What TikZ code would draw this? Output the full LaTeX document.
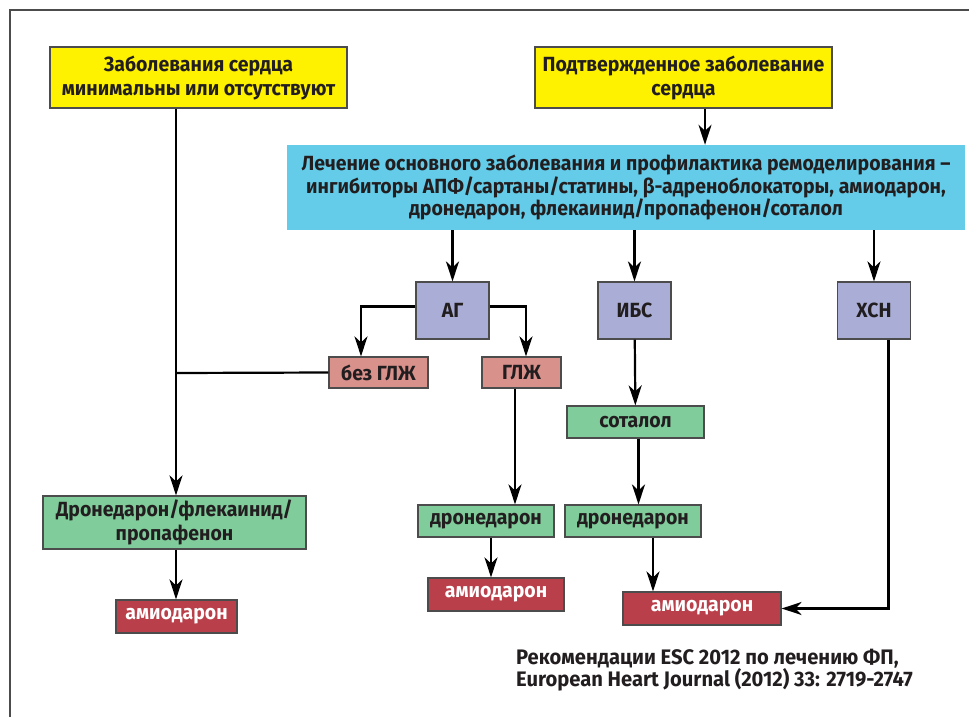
\documentclass[tikz,border=0pt]{standalone}
\usepackage{fontspec}
\setmainfont{Fira Sans}[FakeStretch=0.95]
\newfontfamily\citefont{Fira Sans}[FakeStretch=0.96]
\usetikzlibrary{arrows.meta}
\definecolor{zheltyj}{RGB}{255,242,0}
\definecolor{goluboj}{RGB}{100,204,232}
\definecolor{sirenevyj}{RGB}{170,174,214}
\definecolor{rozovyj}{RGB}{217,145,140}
\definecolor{zelenyj}{RGB}{128,204,155}
\definecolor{krasnyj}{RGB}{185,63,74}
\definecolor{tekst}{RGB}{34,30,32}

\begin{document}
\begin{tikzpicture}[x=1pt, y=-1pt,
    every node/.style={font=\bfseries\fontsize{20.5}{24}\selectfont, text=tekst, align=center, inner sep=0pt},
    box/.style={draw=black!70, line width=1.2pt},
    yellowbox/.style={box, fill=zheltyj, minimum width=297pt, minimum height=61pt},
    cyanbox/.style={fill=goluboj},
    bluebox/.style={box, fill=sirenevyj, minimum width=73pt, minimum height=57pt},
    pinkbox/.style={box, fill=rozovyj, minimum height=31pt},
    greenbox/.style={box, fill=zelenyj, minimum height=32pt},
    redbox/.style={box, fill=krasnyj, text=white, minimum height=33pt},
    citetext/.style={font=\citefont\bfseries\fontsize{21}{22}\selectfont, align=left},
    arr/.style={line width=2.2pt, -{Stealth[length=20pt,width=13pt,inset=6pt]}},
    line/.style={line width=2.2pt}]
    \useasboundingbox (0,0) rectangle (969,717);
    \draw[black!70, line width=1.5pt] (10,717) -- (10,10) -- (969,10);

    % top level
    \node[yellowbox] (zab) at (198.5,77.5) {Заболевания сердца\\минимальны или отсутствуют};
    \node[yellowbox] (podt) at (683.5,77.5) {Подтвержденное заболевание\\сердца};
    \node[cyanbox, minimum width=678pt, minimum height=85pt] (lech) at (626,187.5)
        {Лечение основного заболевания и профилактика ремоделирования –\\[-1.5pt]
         ингибиторы АПФ/сартаны/статины, β-адреноблокаторы, амиодарон,\\[-1.5pt]
         дронедарон, флекаинид/пропафенон/соталол};

    % diseases
    \node[bluebox] (ag) at (452.5,310.5) {АГ};
    \node[bluebox] (ibs) at (634.5,310.5) {ИБС};
    \node[bluebox] (xsn) at (874,310.5) {ХСН};
    \node[pinkbox, minimum width=99pt] (bez) at (378.5,372.5) {без ГЛЖ};
    \node[pinkbox, minimum width=79pt] (glj) at (521.5,372.5) {ГЛЖ};

    % drugs
    \node[greenbox, minimum width=137pt] (sot) at (635.5,422) {соталол};
    \node[greenbox, minimum width=263pt, minimum height=53pt] (dfp) at (174.5,522.5) {Дронедарон/флекаинид/\\пропафенон};
    \node[greenbox, minimum width=136pt] (dron1) at (486,521) {дронедарон};
    \node[greenbox, minimum width=136pt] (dron2) at (633,521) {дронедарон};
    \node[redbox, minimum width=121pt] (amio1) at (176.5,616.5) {амиодарон};
    \node[redbox, minimum width=136pt] (amio2) at (496,594.5) {амиодарон};
    \node[redbox, minimum width=158pt] (amio3) at (702,608.5) {амиодарон};

    \node[citetext, anchor=north west] (ist) at (516,649)
        {Рекомендации ESC 2012 по лечению ФП,\\European Heart Journal (2012) 33: 2719-2747};

    % connectors
    \coordinate (razv) at (176,373);
    \draw[arr] (zab.south -| razv) -- (dfp.north -| razv);
    \draw[line] (razv) -- (bez.west);
    \draw[arr] (dfp.south -| razv) -- (amio1.north -| razv);
    \draw[arr] ([xshift=21.5pt]podt.south) -- ([xshift=21.5pt]podt.south |- lech.north);
    \draw[arr] (lech.south -| ag.north) -- (ag.north);
    \draw[arr] (lech.south -| ibs.north) -- (ibs.north);
    \draw[arr] (lech.south -| xsn.north) -- (xsn.north);
    \draw[arr] ([yshift=4pt]ag.west) -| ([xshift=-17.5pt]bez.north);
    \draw[arr] ([yshift=4pt]ag.east) -| ([xshift=4.5pt]glj.north);
    \draw[arr] ([xshift=-6.5pt]glj.south) -- ([xshift=-6.5pt]glj.south |- dron1.north);
    \draw[arr] (ibs) -- (sot);
    \draw[arr] ([xshift=3pt]sot.south) -- ([xshift=3pt]sot.south |- dron2.north);
    \draw[arr] ([xshift=5pt]dron1.south) -- ([xshift=5pt]dron1.south |- amio2.north);
    \draw[arr] ([xshift=20pt]dron2.south) -- ([xshift=20pt]dron2.south |- amio3.north);
    \draw[arr] ([xshift=14.5pt]xsn.south) |- (amio3.east);
\end{tikzpicture}
\end{document}
